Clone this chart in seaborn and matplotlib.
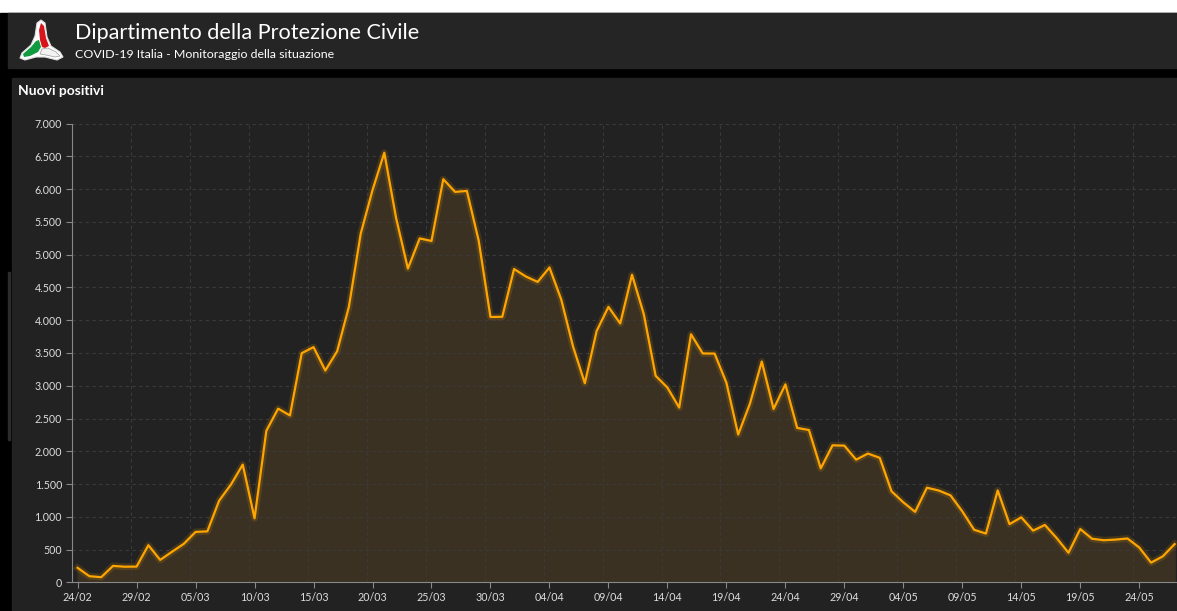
import pandas as pd
import matplotlib.pyplot as plt
import seaborn as sns
from matplotlib.patches import Polygon, Rectangle

# -----------------------------
# Data: nuovi positivi, Italia
# -----------------------------
start_date = "2020-02-24"
new_cases = [
    221, 93, 78, 250, 238, 240, 566, 342, 466, 587,
    769, 778, 1247, 1492, 1797, 977, 2313, 2651, 2547, 3497,
    3590, 3233, 3526, 4207, 5322, 5986, 6557, 5560, 4789, 5249,
    5210, 6153, 5959, 5974, 5217, 4050, 4053, 4782, 4668, 4585,
    4805, 4316, 3599, 3039, 3836, 4204, 3951, 4694, 4092, 3153,
    2972, 2667, 3786, 3493, 3491, 3047, 2256, 2729, 3370, 2646,
    3021, 2357, 2324, 1739, 2091, 2086, 1872, 1965, 1900, 1389,
    1221, 1075, 1444, 1401, 1327, 1083, 802, 744, 1402, 888,
    992, 789, 875, 675, 451, 813, 665, 642, 652, 669,
    531, 300, 397, 584,
]
y_ticks = list(range(0, 7001, 500))

df = pd.DataFrame({"cases": new_cases})
df["date"] = pd.date_range(start_date, periods=len(df), freq="D")
df["day"] = range(len(df))

W, H = 1177, 611
fig = plt.figure(figsize=(W / 100, H / 100), dpi=100)
fig.patch.set_facecolor("white")

# background panels in pixel coordinates
bg = fig.add_axes([0, 0, 1, 1])
bg.set_xlim(0, W)
bg.set_ylim(H, 0)
bg.axis("off")
bg.add_patch(Rectangle((0, 13), W, H, color="black"))
bg.add_patch(Rectangle((8, 13), W, 55, color="#252525"))
bg.add_patch(Rectangle((12, 78), W, H, color="#222222"))
bg.add_patch(Rectangle((8, 272), 2, 168, color="#2c2c2c"))

# logo
outer = [(41, 20), (45, 23), (47, 37), (51, 46), (60, 52), (63, 57), (57, 60), (45, 57),
         (36, 57), (25, 60), (20, 58), (22, 53), (31, 45), (35, 36), (37, 23)]
bg.add_patch(Polygon(outer, closed=True, fc="white", ec="#dddddd", lw=0.8))
red = [(41, 23), (44, 26), (46, 38), (49, 46), (45, 48), (42, 47), (40, 40), (39, 30)]
bg.add_patch(Polygon(red, closed=True, fc="#d7141a", ec="none"))
green = [(39, 40), (41, 47), (38, 52), (30, 56), (24, 57), (23, 54), (31, 47), (36, 41)]
bg.add_patch(Polygon(green, closed=True, fc="#119a3f", ec="none"))
white_part = [(42, 49), (48, 48), (56, 52), (60, 56), (55, 57), (46, 55), (40, 54)]
bg.add_patch(Polygon(white_part, closed=True, fc="#f2f2f2", ec="#999999", lw=0.5))

font = ["Lato", "DejaVu Sans"]
bg.text(75, 33, "Dipartimento della Protezione Civile", color="white", fontsize=15.6,
        family=font, va="center", ha="left")
bg.text(75, 55, "COVID-19 Italia - Monitoraggio della situazione", color="white",
        fontsize=8.9, family=font, va="center", ha="left")
bg.text(18, 91, "Nuovi positivi", color="white", fontsize=10, fontweight="bold",
        family=font, va="center", ha="left")

# -----------------------------
# Chart
# -----------------------------
left_px, bottom_px, top_px = 71.7, 582.3, 123.7
ax = fig.add_axes([left_px / W, (H - bottom_px) / H, 1 - left_px / W, (bottom_px - top_px) / H])
ax.set_facecolor("none")

ax.fill_between(df["day"], df["cases"], color="#3b3122", zorder=1)
ax.plot(df["day"], df["cases"], color="#ffa500", lw=5, alpha=0.15, zorder=2)
sns.lineplot(x="day", y="cases", data=df, ax=ax, color="#ffa500", lw=1.6, zorder=3)

ax.set_xlim(-0.45, 93.2)
ax.set_ylim(0, 7000)

tick_days = list(range(0, len(df), 5))
ax.set_xticks(tick_days)
ax.set_xticklabels([df["date"][d].strftime("%d/%m") for d in tick_days])
ax.set_xticks([d - 0.5 for d in tick_days], minor=True)
ax.set_yticks(y_ticks)
ax.set_yticklabels([f"{v:,}".replace(",", ".") for v in y_ticks])

ax.grid(False)
ax.grid(which="minor", axis="x", color="#3a3a3a", ls=(0, (3, 3)), lw=0.8, zorder=0)
ax.grid(which="major", axis="y", color="#3a3a3a", ls=(0, (3, 3)), lw=0.8, zorder=0)
ax.tick_params(which="minor", length=0)
ax.tick_params(which="major", colors="#888888", labelcolor="#dddddd", length=4, width=0.8,
               labelsize=7.7, pad=3)
for lab in ax.get_xticklabels() + ax.get_yticklabels():
    lab.set_family(font)

for side in ["top", "right"]:
    ax.spines[side].set_visible(False)
for side in ["left", "bottom"]:
    ax.spines[side].set_color("#888888")
    ax.spines[side].set_linewidth(0.8)
ax.set_xlabel("")
ax.set_ylabel("")

fig.savefig("out.png", dpi=100, facecolor=fig.get_facecolor())
